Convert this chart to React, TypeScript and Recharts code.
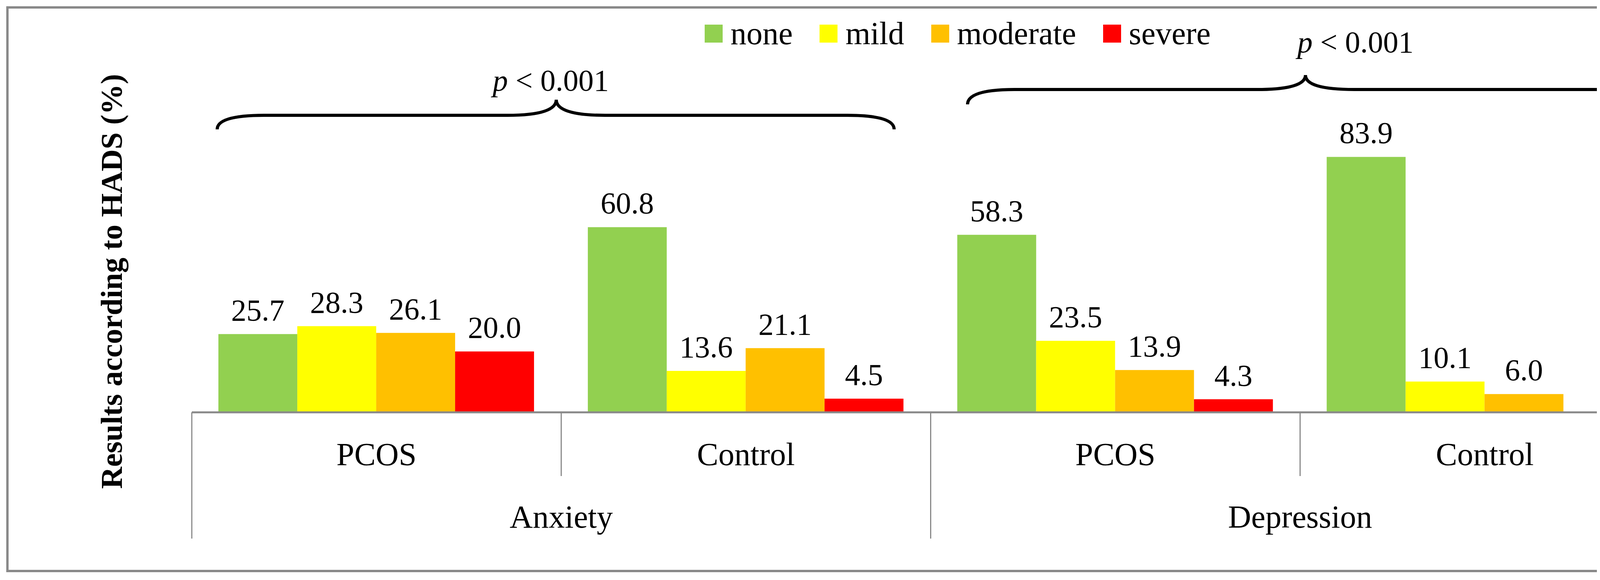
import React from 'react';
import {
  BarChart,
  Bar,
  XAxis,
  YAxis,
  Legend,
  LabelList,
  Customized,
} from 'recharts';

// HADS categories per scale and group
const scales = ['Anxiety', 'Anxiety', 'Depression', 'Depression'];
const groups = ['PCOS', 'Control', 'PCOS', 'Control'];

const noneValues = [25.7, 60.8, 58.3, 83.9];
const mildValues = [28.3, 13.6, 23.5, 10.1];
const moderateValues = [26.1, 21.1, 13.9, 6.0];
const severeValues = [20.0, 4.5, 4.3, 0.0];

const pLabel = 'p < 0.001';

const SERIES = [
  { key: 'none', name: 'none', color: '#92D050' },
  { key: 'mild', name: 'mild', color: '#FFFF00' },
  { key: 'moderate', name: 'moderate', color: '#FFC000' },
  { key: 'severe', name: 'severe', color: '#FF0000' },
];

const data = groups.map((g, i) => ({
  sub: g,
  main: scales[i],
  none: noneValues[i],
  mild: mildValues[i],
  moderate: moderateValues[i],
  severe: severeValues[i],
}));

// layout
const W = 4403;
const H = 1484;
const PLOT_LEFT = 491;
const PLOT_RIGHT = 4274;
const AXIS_Y = 1055;
const TIER1 = 163;
const TIER2 = 160;
const BAND = (PLOT_RIGHT - PLOT_LEFT) / groups.length;
const FONT = '"Liberation Serif", "Times New Roman", serif';
const GRID = '#898989';
const WORD_SIZE = 82;

const SubTick = (props: any) => {
  const { x, index } = props;
  const left = x - BAND / 2;
  const groupStart = index % 2 === 0;
  return (
    <g>
      <line
        x1={left}
        x2={left}
        y1={AXIS_Y}
        y2={AXIS_Y + (groupStart ? TIER1 + TIER2 : TIER1)}
        stroke={GRID}
        strokeWidth={3}
      />
      {index === groups.length - 1 && (
        <line
          x1={x + BAND / 2}
          x2={x + BAND / 2}
          y1={AXIS_Y}
          y2={AXIS_Y + TIER1 + TIER2}
          stroke={GRID}
          strokeWidth={3}
        />
      )}
      <text
        x={x}
        y={AXIS_Y + 135}
        textAnchor="middle"
        fontSize={WORD_SIZE}
        fontFamily={FONT}
        fill="#000"
      >
        {props.payload.value}
      </text>
    </g>
  );
};

const MainTick = (props: any) => {
  const { x, index } = props;
  if (index % 2 !== 0) return null;
  return (
    <text
      x={x + BAND / 2}
      y={AXIS_Y + 295}
      textAnchor="middle"
      fontSize={WORD_SIZE}
      fontFamily={FONT}
      fill="#000"
    >
      {props.payload.value}
    </text>
  );
};

function bracePath(x1: number, x2: number, xm: number, yEnd: number, yLine: number, yPeak: number) {
  const r = 120;
  const r2 = 125;
  return [
    `M ${x1} ${yEnd}`,
    `Q ${x1} ${yLine} ${x1 + r} ${yLine}`,
    `L ${xm - r2} ${yLine}`,
    `Q ${xm} ${yLine} ${xm} ${yPeak}`,
    `Q ${xm} ${yLine} ${xm + r2} ${yLine}`,
    `L ${x2 - r} ${yLine}`,
    `Q ${x2} ${yLine} ${x2} ${yEnd}`,
  ].join(' ');
}

const Annotations = () => (
  <g>
    <path d={bracePath(556, 2289, 1424, 331, 295, 255)} fill="none" stroke="#000" strokeWidth={8} />
    <path d={bracePath(2477, 4212, 3342, 267, 229, 192)} fill="none" stroke="#000" strokeWidth={8} />
    <text x={1410} y={232} textAnchor="middle" fontSize={78} fontFamily={FONT} fill="#000">
      <tspan fontStyle="italic">p</tspan>
      {pLabel.slice(1)}
    </text>
    <text x={3470} y={134} textAnchor="middle" fontSize={78} fontFamily={FONT} fill="#000">
      <tspan fontStyle="italic">p</tspan>
      {pLabel.slice(1)}
    </text>
    <text
      x={0}
      y={0}
      transform="translate(312, 720) rotate(-90)"
      textAnchor="middle"
      fontSize={78}
      fontWeight="bold"
      fontFamily={FONT}
      fill="#000"
    >
      Results according to HADS (%)
    </text>
  </g>
);

const LegendContent = () => (
  <div style={{ display: 'flex', alignItems: 'center', fontFamily: FONT, height: 100 }}>
    {SERIES.map((s) => (
      <div key={s.key} style={{ display: 'flex', alignItems: 'center', marginRight: 69 }}>
        <span style={{ display: 'inline-block', width: 46, height: 46, background: s.color, marginRight: 20 }} />
        <span style={{ fontSize: WORD_SIZE, lineHeight: '100px', color: '#000' }}>{s.name}</span>
      </div>
    ))}
  </div>
);

export default function App() {
  return (
    <div style={{ position: 'relative', width: W, height: H, margin: -8, background: '#fff' }}>
      <div
        style={{
          position: 'absolute',
          left: 16,
          top: 16,
          width: 4366,
          height: 1448,
          border: `6px solid ${GRID}`,
          boxSizing: 'border-box',
        }}
      />
      <div style={{ position: 'absolute', left: 0, top: 0 }}>
        <BarChart
          width={W}
          height={H}
          data={data}
          margin={{ top: 276, right: W - PLOT_RIGHT, left: PLOT_LEFT, bottom: H - AXIS_Y - TIER1 - TIER2 }}
          barCategoryGap="7.2%"
          barGap={0}
        >
          <XAxis
            dataKey="sub"
            height={TIER1}
            interval={0}
            tickLine={false}
            axisLine={{ stroke: GRID, strokeWidth: 5 }}
            tick={<SubTick />}
          />
          <XAxis
            xAxisId="main"
            dataKey="main"
            height={TIER2}
            interval={0}
            tickLine={false}
            axisLine={false}
            tick={<MainTick />}
          />
          <YAxis hide domain={[0, 100]} />
          <Legend
            layout="horizontal"
            verticalAlign="middle"
            align="center"
            wrapperStyle={{ top: 36, left: 1804, width: 1500, height: 100 }}
            content={<LegendContent />}
          />
          {SERIES.map((s) => (
            <Bar key={s.key} dataKey={s.key} name={s.name} fill={s.color} isAnimationActive={false}>
              <LabelList
                dataKey={s.key}
                position="top"
                offset={35}
                formatter={(v: any) => Number(v).toFixed(1)}
                style={{ fontSize: 78, fontFamily: FONT, fill: '#000' }}
              />
            </Bar>
          ))}
          <Customized component={<Annotations />} />
        </BarChart>
      </div>
    </div>
  );
}
